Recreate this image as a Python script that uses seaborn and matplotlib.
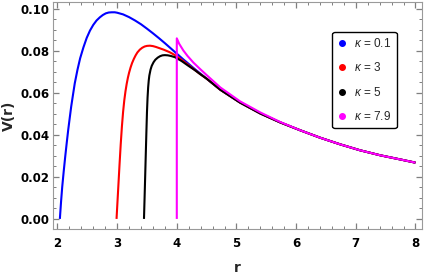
import matplotlib
matplotlib.use("Agg")
import matplotlib.pyplot as plt
from matplotlib.ticker import MultipleLocator, FormatStrFormatter
from matplotlib.lines import Line2D
import seaborn as sns
import pandas as pd

sns.set_theme(style="white")
plt.rcParams['font.family'] = ['Liberation Sans', 'DejaVu Sans']
plt.rcParams['mathtext.fontset'] = 'custom'
plt.rcParams['mathtext.it'] = 'Liberation Sans:italic'
plt.rcParams['mathtext.rm'] = 'Liberation Sans'

# ---- data ----
kappa_labels = ["0.1", "3", "5", "7.9"]
colors = ["#0000ff", "#ff0000", "#000000", "#ff00ff"]

tail_r = [4.5, 4.73, 5.06, 5.40, 5.73, 6.07, 6.40, 6.74, 7.07, 7.41, 7.75, 8.0]
tail_v = [0.0668, 0.0615, 0.0554, 0.0502, 0.0460, 0.0422, 0.0387, 0.0355, 0.0327, 0.0303,
          0.0283, 0.0268]

r_k01 = [2.04, 2.06, 2.08, 2.105, 2.13, 2.155, 2.18, 2.205, 2.23, 2.26, 2.29, 2.335, 2.38,
         2.435, 2.49, 2.545, 2.60, 2.655, 2.71, 2.76, 2.81, 2.86, 2.91, 2.96, 3.0, 3.1, 3.2,
         3.3, 3.4, 3.5, 3.6, 3.7, 3.8, 3.9, 4.0, 4.1, 4.2, 4.3, 4.4]
v_k01 = [0.0, 0.0082, 0.0154, 0.0228, 0.0297, 0.0362, 0.0424, 0.0480, 0.0535, 0.0591, 0.0646,
         0.0710, 0.0765, 0.0817, 0.0862, 0.0897, 0.0924, 0.0945, 0.0960, 0.0971, 0.0979,
         0.0983, 0.0984, 0.0984, 0.0982, 0.0974, 0.0961, 0.0945, 0.0927, 0.0906, 0.0884,
         0.0861, 0.0837, 0.0812, 0.0787, 0.0762, 0.0738, 0.0714, 0.0691]

r_k3 = [2.99, 3.00, 3.02, 3.04, 3.06, 3.08, 3.10, 3.12, 3.14, 3.16, 3.18, 3.20, 3.225, 3.25,
        3.28, 3.31, 3.34, 3.38, 3.42, 3.46, 3.50, 3.55, 3.60, 3.65, 3.70, 3.78, 3.88, 3.97,
        4.08, 4.19, 4.30, 4.39]
v_k3 = [0.0, 0.0052, 0.0155, 0.0258, 0.0355, 0.0440, 0.0510, 0.0565, 0.0608, 0.0643, 0.0672,
        0.0696, 0.0721, 0.0742, 0.0762, 0.0779, 0.0793, 0.0806, 0.0815, 0.0821, 0.0824,
        0.0825, 0.0823, 0.0819, 0.0814, 0.0806, 0.0794, 0.0780, 0.0758, 0.0734, 0.0710,
        0.0690]

r_k5 = [3.45, 3.46, 3.47, 3.48, 3.49, 3.50, 3.51, 3.52, 3.53, 3.54, 3.56, 3.58, 3.61, 3.64,
        3.68, 3.72, 3.76, 3.80, 3.85, 3.90, 3.97, 4.08, 4.19, 4.30, 4.39]
v_k5 = [0.0, 0.0100, 0.0202, 0.0307, 0.0410, 0.0508, 0.0578, 0.0627, 0.0660, 0.0683, 0.0711,
        0.0729, 0.0746, 0.0758, 0.0768, 0.0775, 0.0779, 0.0780, 0.0779, 0.0776, 0.0770,
        0.0752, 0.0730, 0.0709, 0.0690]

r_k79 = [4.0, 4.0, 4.04, 4.11, 4.18, 4.28, 4.39, 4.50, 4.73, 5.06, 5.40, 5.73]
v_k79 = [0.0, 0.0860, 0.0834, 0.0802, 0.0776, 0.0744, 0.0714, 0.0685, 0.0626, 0.0560,
         0.0507, 0.0462]

series = [
    (r_k01 + tail_r, v_k01 + tail_v),
    (r_k3 + tail_r, v_k3 + tail_v),
    (r_k5 + tail_r, v_k5 + tail_v),
    (r_k79 + tail_r[5:], v_k79 + tail_v[5:]),
]

rows = []
for lab, (rs, vs) in zip(kappa_labels, series):
    for r, v in zip(rs, vs):
        rows.append({"r": r, "V": v, "kappa": lab})
df = pd.DataFrame(rows)

fig = plt.figure(figsize=(4.24, 2.74), dpi=100)
ax = fig.add_axes([53 / 424, 45 / 274, 369 / 424, 227 / 274])

sns.lineplot(data=df, x="r", y="V", hue="kappa", hue_order=kappa_labels,
             palette=dict(zip(kappa_labels, colors)), estimator=None, sort=False,
             units="kappa", linewidth=1.5, legend=False, ax=ax)
for ln in ax.get_lines():
    ln.set_solid_joinstyle("round")
    ln.set_solid_capstyle("butt")

ax.set_xlim(1.925, 8.11)
ax.set_ylim(-0.0048, 0.1033)

frame_col = "#9a9a9a"
for s in ax.spines.values():
    s.set_color(frame_col)
    s.set_linewidth(0.8)

ax.xaxis.set_major_locator(MultipleLocator(1))
ax.xaxis.set_minor_locator(MultipleLocator(0.2))
ax.yaxis.set_major_locator(MultipleLocator(0.02))
ax.yaxis.set_minor_locator(MultipleLocator(0.005))
ax.yaxis.set_major_formatter(FormatStrFormatter("%.2f"))
ax.tick_params(which="both", direction="in", top=True, right=True, bottom=True, left=True,
               color="#7f7f7f", labelcolor="black")
ax.tick_params(which="major", length=4.5, width=0.9)
ax.tick_params(which="minor", length=2.5, width=0.7)
ax.tick_params(axis="x", pad=6)
ax.tick_params(axis="y", pad=2.5)
for t in ax.get_xticklabels() + ax.get_yticklabels():
    t.set_fontweight("bold")
    t.set_fontfamily("DejaVu Sans")
    t.set_fontsize(8.5)

ax.set_xlabel("r", fontsize=10, fontweight="bold", labelpad=8, family="DejaVu Sans")
ax.set_ylabel("V(r)", fontsize=10, fontweight="bold", labelpad=3, family="DejaVu Sans")

handles = [Line2D([], [], ls="", marker="o", markersize=4, color=c) for c in colors]
labels = [r"$\kappa$ = " + k for k in kappa_labels]


def make_legend(fs):
    lg = ax.legend(handles, labels, loc="upper left", bbox_to_anchor=(0.757, 0.868),
                   fontsize=fs, frameon=True, fancybox=True, framealpha=1,
                   edgecolor="black", handlelength=0.8, handletextpad=0.6,
                   labelspacing=0.95, borderpad=0.45, borderaxespad=0)
    lg.get_frame().set_linewidth(1.0)
    return lg


fs = 8.5
leg = make_legend(fs)
renderer = fig.canvas.get_renderer()
while leg.get_window_extent(renderer).width > 69 and fs > 5:
    fs -= 0.25
    leg.remove()
    leg = make_legend(fs)

fig.savefig("out.png", dpi=100)
